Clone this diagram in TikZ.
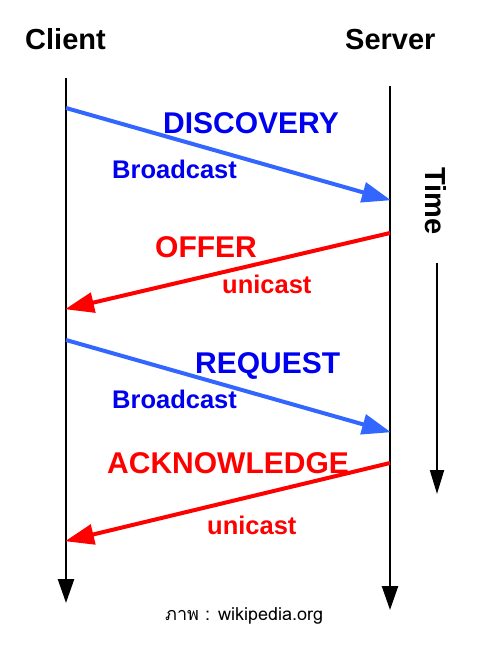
\documentclass[tikz,border=0pt]{standalone}
\usepackage{fontspec}
\setmainfont{Liberation Sans}
\newfontfamily\thaifont[Script=Thai]{Loma}
\usetikzlibrary{arrows.meta}
\definecolor{arrblue}{HTML}{3366FF}
\definecolor{txtblue}{HTML}{0000F0}
\definecolor{txtred}{HTML}{FF0000}
\tikzset{
  lifeline/.style={line width=2.5pt, -{Triangle[length=24pt,width=16pt]}},
  msgblue/.style={draw=arrblue, line width=4pt, -{Triangle[length=29pt,width=20pt]}, shorten >=-1pt},
  msgred/.style={draw=txtred, line width=4pt, -{Triangle[length=29pt,width=20pt]}, shorten >=-1pt},
  lbl/.style={inner sep=0pt, anchor=base west, font=\fontsize{30}{30}\selectfont\bfseries},
  sublbl/.style={inner sep=0pt, anchor=base west, font=\fontsize{25.5}{25.5}\selectfont\bfseries},
  head/.style={inner sep=0pt, anchor=base west, font=\fontsize{29}{29}\selectfont\bfseries}
}
\begin{document}
\begin{tikzpicture}[x=1pt,y=-1pt]
\useasboundingbox (0,0) rectangle (478,645);
% lifelines
\coordinate (ctop) at (66,78);
\coordinate (cbot) at (66,603);
\coordinate (stop) at (390,86);
\coordinate (sbot) at (390,610);
\coordinate (ttop) at (437,263);
\coordinate (tbot) at (437,494);
\draw[lifeline] (ctop) -- (cbot);
\draw[lifeline] (stop) -- (sbot);
\draw[line width=2pt, -{Triangle[length=24pt,width=14pt]}] (ttop) -- (tbot);
% message endpoints
\coordinate (d1) at (66,108);  \coordinate (d2) at (390,200);
\coordinate (o1) at (390,233); \coordinate (o2) at (66,309);
\coordinate (r1) at (66,340);  \coordinate (r2) at (390,432);
\coordinate (a1) at (390,463); \coordinate (a2) at (66,541);
\draw[msgblue] (d1) -- (d2);
\draw[msgred] (o1) -- (o2);
\draw[msgblue] (r1) -- (r2);
\draw[msgred] (a1) -- (a2);
% headings
\node[head] (client) at (25,49) {Client};
\node[head] (server) at (345,49) {Server};
\node[inner sep=0pt, rotate=-90, font=\fontsize{29}{29}\selectfont\bfseries] (time) at (436,201) {Time};
% labels
\node[lbl, text=txtblue] (disc) at (163,133) {DISCOVERY};
\node[sublbl, text=txtblue] (bc1) at (112,178) {Broadcast};
\node[lbl, text=txtred] (offer) at (155,257) {OFFER};
\node[sublbl, text=txtred] (uc1) at (222,293) {unicast};
\node[lbl, text=txtblue] (req) at (195,373) {REQUEST};
\node[sublbl, text=txtblue] (bc2) at (112,408) {Broadcast};
\node[lbl, text=txtred] (ack) at (107,473) {ACKNOWLEDGE};
\node[sublbl, text=txtred] (uc2) at (207,534) {unicast};
\node[inner sep=0pt, anchor=base west, font=\thaifont\fontsize{18}{18}\selectfont] (src) at (165,620) {ภาพ : wikipedia.org};
\end{tikzpicture}
\end{document}
